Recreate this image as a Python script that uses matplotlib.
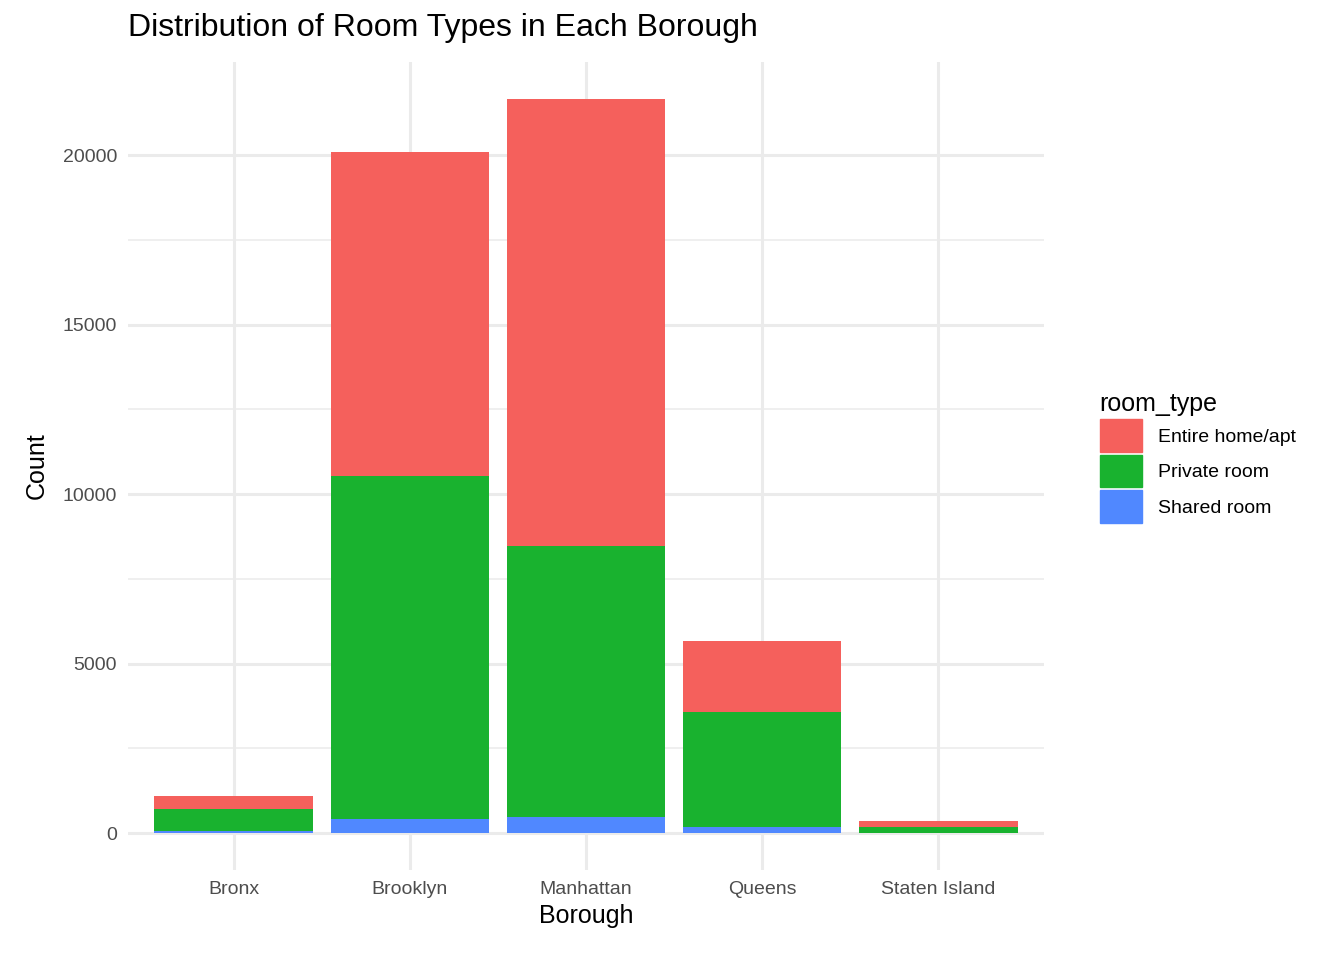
import numpy as np
import matplotlib
matplotlib.use("Agg")
import matplotlib.pyplot as plt
from matplotlib.patches import Patch

plt.rcParams["font.family"] = ["Liberation Sans", "DejaVu Sans"]

boroughs = ["Bronx", "Brooklyn", "Manhattan", "Queens", "Staten Island"]
room_types = ["Entire home/apt", "Private room", "Shared room"]
shared = [60, 413, 480, 198, 9]
private = [652, 10132, 7982, 3372, 188]
entire = [379, 9559, 13199, 2096, 176]
colors = {"Entire home/apt": "#F5605C", "Private room": "#19B22F", "Shared room": "#5088FF"}

fig = plt.figure(figsize=(13.44, 9.6), dpi=100)
ax = fig.add_axes([128/1344, 90/960, 916/1344, 808/960])
x = np.arange(1, len(boroughs) + 1)
sh = np.array(shared); pr = np.array(private); en = np.array(entire)
ax.bar(x, sh, width=0.9, color=colors["Shared room"], zorder=3)
ax.bar(x, pr, width=0.9, bottom=sh, color=colors["Private room"], zorder=3)
ax.bar(x, en, width=0.9, bottom=sh + pr, color=colors["Entire home/apt"], zorder=3)

top = (sh + pr + en).max()
ax.set_xlim(0.4, 5.6)
ax.set_ylim(-0.05 * top, top * 1.05)
ax.set_yticks([0, 5000, 10000, 15000, 20000])
ax.set_yticks([2500, 7500, 12500, 17500], minor=True)
ax.set_xticks(x)
ax.set_xticklabels(boroughs)
ax.grid(True, which="major", color="#EBEBEB", lw=2.2, zorder=0)
ax.grid(True, which="minor", axis="y", color="#EBEBEB", lw=1.1, zorder=0)
ax.tick_params(which="both", length=0, labelsize=14, colors="#4D4D4D", pad=8)
for s in ax.spines.values():
    s.set_visible(False)
ax.set_xlabel("Borough", fontsize=18, labelpad=4)
ax.set_ylabel("Count", fontsize=18, labelpad=10)
fig.text(128/1344, 1 - 28/960, "Distribution of Room Types in Each Borough",
         fontsize=23, va="center", ha="left")

handles = [Patch(color=colors[r]) for r in room_types]
leg = fig.legend(handles, room_types, title="room_type", loc="upper left",
                 bbox_to_anchor=(1082/1344, 1 - 375/960), frameon=False,
                 fontsize=14, title_fontsize=18, handlelength=2.2, handleheight=2.2,
                 labelspacing=0.15, handletextpad=0.8)
leg._legend_box.align = "left"
fig.savefig("out.png", dpi=100)
